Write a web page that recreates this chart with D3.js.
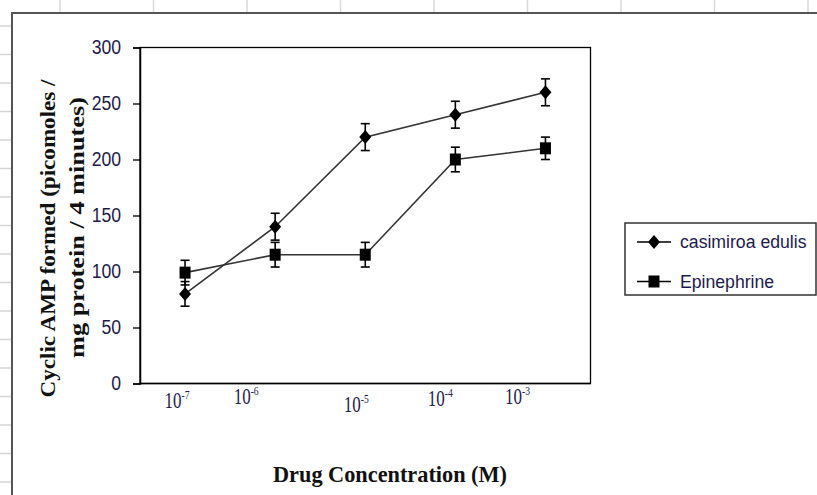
<!DOCTYPE html>
<html>

<head>
    <meta charset="utf-8">
    <style>
        body {
            margin: 0;
            background: white;
        }

        svg {
            display: block;
        }

        .serif {
            font-family: 'Liberation Serif', 'Times New Roman', serif;
        }

        .sans {
            font-family: 'Liberation Sans', Arial, sans-serif;
        }
    </style>
</head>

<body>
    <svg width="817" height="495"></svg>
</body>

<script src="https://d3js.org/d3.v7.min.js"></script>

<script>
    // values
    const concentrations = ["1e-7", "1e-6", "1e-5", "1e-4", "1e-3"]
    const exponents = ["-7", "-6", "-5", "-4", "-3"]
    const casimiroa = [80, 140, 220, 240, 260]
    const casimiroaErr = [11, 12, 12, 12, 12]
    const epinephrine = [99, 115, 115, 200, 210]
    const epinephrineErr = [11, 11, 11, 11, 10]
    const yTicks = [0, 50, 100, 150, 200, 250, 300]
    const seriesNames = ["casimiroa edulis", "Epinephrine"]

    let width = 817;
    let height = 495;
    let svg = d3.select("svg")

    let textColor = "#1e1b4b"

    // the labels were hand placed text boxes, so they sit off the category centres
    let labelNudge = [
        { dx: -8, y: 408 },
        { dx: -29, y: 403.5 },
        { dx: -9, y: 411.5 },
        { dx: -15, y: 405.5 },
        { dx: -28, y: 404 }
    ]

    // squash text horizontally (the original chart was pasted in narrower)
    function squeeze(sel, k) {
        sel.each(function () {
            let w = this.getComputedTextLength()
            d3.select(this)
                .attr("textLength", w * k)
                .attr("lengthAdjust", "spacingAndGlyphs")
        })
    }

    svg.append("rect")
        .attr("width", width)
        .attr("height", height)
        .style("fill", "white")

    // spreadsheet grid peeking out behind the chart
    svg.selectAll(".colline")
        .data(d3.range(9).map(i => 60 + i * 93.5))
        .join("line")
        .attr("x1", d => d).attr("x2", d => d)
        .attr("y1", 0).attr("y2", 13)
        .style("stroke", "#d9d9d9")
        .style("stroke-width", 1.5)

    svg.selectAll(".rowline")
        .data(d3.range(17).map(i => 26 + i * 28.5))
        .join("line")
        .attr("x1", 0).attr("x2", 11)
        .attr("y1", d => d).attr("y2", d => d)
        .style("stroke", "#d4d4d4")
        .style("stroke-width", 1.5)

    // chart area
    svg.append("rect")
        .attr("x", 12)
        .attr("y", 13)
        .attr("width", 900)
        .attr("height", 600)
        .style("fill", "white")
        .style("stroke", "#555")
        .style("stroke-width", 2)

    let plot = { left: 140, top: 47.5, right: 590.5, bottom: 383.5 }

    let x = d3.scaleBand()
        .domain(concentrations)
        .range([plot.left, plot.right])

    let cx = d => x(d) + x.bandwidth() / 2

    let y = d3.scaleLinear()
        .domain([0, 300])
        .range([plot.bottom, plot.top])

    svg.append("rect")
        .attr("x", plot.left)
        .attr("y", plot.top)
        .attr("width", plot.right - plot.left)
        .attr("height", plot.bottom - plot.top)
        .style("fill", "none")
        .style("stroke", "#000")
        .style("stroke-width", 1.3)

    let yAxis = svg.append("g")
        .attr("transform", `translate(${plot.left},0)`)
        .call(d3.axisLeft(y).tickValues(yTicks).tickSize(7).tickPadding(12))

    yAxis.select(".domain").style("stroke", "#000").style("stroke-width", 1.5)
    yAxis.selectAll(".tick line").style("stroke", "#000").style("stroke-width", 1.3)
    yAxis.selectAll(".tick text")
        .attr("class", "sans")
        .style("font-size", "20px")
        .style("fill", textColor)
        .call(squeeze, 0.88)

    // bottom axis line (no tick marks)
    svg.append("line")
        .attr("x1", plot.left).attr("x2", plot.right)
        .attr("y1", plot.bottom).attr("y2", plot.bottom)
        .style("stroke", "#000")
        .style("stroke-width", 1.5)

    // x tick labels 10^n
    let xLabels = svg.selectAll(".xlab")
        .data(exponents)
        .join("g")
        .attr("transform", (d, i) => `translate(${cx(concentrations[i]) + labelNudge[i].dx},${labelNudge[i].y}) scale(0.74,1)`)

    let xText = xLabels.append("text")
        .attr("class", "serif")
        .attr("text-anchor", "middle")
        .style("font-size", "23px")
        .style("fill", textColor)

    xText.append("tspan").text("10")
    xText.append("tspan")
        .attr("dy", -9)
        .style("font-size", "13px")
        .text(d => d)

    let series = [
        { name: seriesNames[0], values: casimiroa, err: casimiroaErr, shape: "diamond" },
        { name: seriesNames[1], values: epinephrine, err: epinephrineErr, shape: "square" }
    ]

    let line = d3.line()
        .x((d, i) => cx(concentrations[i]))
        .y(d => y(d))

    function marker(shape) {
        if (shape == "diamond") return "M0,-7L6,0L0,7L-6,0Z"
        return "M-5.5,-6L5.5,-6L5.5,6L-5.5,6Z"
    }

    series.forEach(s => {
        svg.append("path")
            .attr("d", line(s.values))
            .style("fill", "none")
            .style("stroke", "#333")
            .style("stroke-width", 1.6)

        let bars = svg.selectAll(".err-" + s.shape)
            .data(s.values)
            .join("g")
            .attr("transform", (d, i) => `translate(${cx(concentrations[i])},0)`)

        bars.append("line")
            .attr("y1", (d, i) => y(d - s.err[i]))
            .attr("y2", (d, i) => y(d + s.err[i]))
        bars.append("line")
            .attr("x1", -4.5).attr("x2", 4.5)
            .attr("y1", (d, i) => y(d - s.err[i]))
            .attr("y2", (d, i) => y(d - s.err[i]))
        bars.append("line")
            .attr("x1", -4.5).attr("x2", 4.5)
            .attr("y1", (d, i) => y(d + s.err[i]))
            .attr("y2", (d, i) => y(d + s.err[i]))
        bars.selectAll("line")
            .style("stroke", "#000")
            .style("stroke-width", 1.6)

        svg.selectAll(".mark-" + s.shape)
            .data(s.values)
            .join("path")
            .attr("transform", (d, i) => `translate(${cx(concentrations[i])},${y(d)})`)
            .attr("d", marker(s.shape))
            .style("fill", "#000")
    })

    // legend
    svg.append("rect")
        .attr("x", 625)
        .attr("y", 223)
        .attr("width", 191)
        .attr("height", 72)
        .style("fill", "white")
        .style("stroke", "#333")
        .style("stroke-width", 1.5)

    let legend = svg.selectAll(".legend")
        .data(series)
        .join("g")
        .attr("transform", (d, i) => `translate(637,${242 + i * 39.5})`)

    legend.append("line")
        .attr("x1", 0).attr("x2", 34)
        .style("stroke", "#000")
        .style("stroke-width", 1.5)

    legend.append("path")
        .attr("transform", "translate(17,0)")
        .attr("d", d => marker(d.shape))
        .style("fill", "#000")

    legend.append("text")
        .attr("class", "sans")
        .attr("x", 43)
        .attr("y", 6)
        .style("font-size", "18px")
        .style("fill", textColor)
        .text(d => d.name)
        .call(squeeze, 0.98)

    // axis titles
    svg.append("text")
        .attr("class", "serif")
        .attr("x", 390)
        .attr("y", 482)
        .attr("text-anchor", "middle")
        .attr("textLength", 234)
        .attr("lengthAdjust", "spacingAndGlyphs")
        .style("font-size", "24px")
        .style("font-weight", "bold")
        .style("fill", "#111")
        .text("Drug Concentration (M)")

    let yTitle = [
        { text: "Cyclic AMP formed (picomoles /", x: 55, y: 238.5, len: 318 },
        { text: "mg protein / 4 minutes)", x: 84, y: 227.5, len: 261 }
    ]

    svg.selectAll(".ytitle")
        .data(yTitle)
        .join("g")
        .attr("transform", d => `translate(${d.x},${d.y}) scale(0.9,1) rotate(-90)`)
        .append("text")
        .attr("class", "serif")
        .attr("text-anchor", "middle")
        .attr("textLength", d => d.len)
        .attr("lengthAdjust", "spacingAndGlyphs")
        .style("font-size", "23px")
        .style("font-weight", "bold")
        .style("fill", "#111")
        .text(d => d.text)

</script>

</html>
